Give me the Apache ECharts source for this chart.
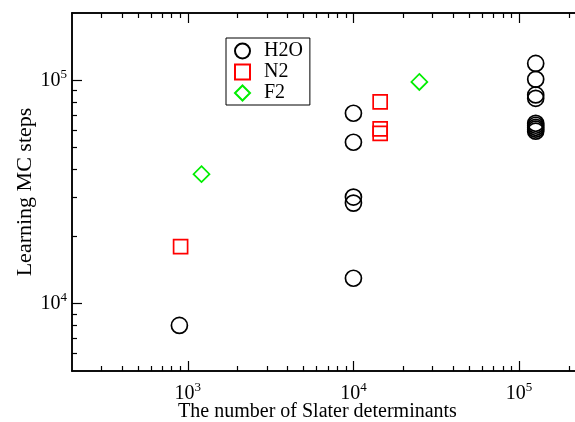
<!DOCTYPE html>
<html>
<head>
<meta charset="utf-8">
<title>Learning MC steps</title>
<script src="https://cdn.jsdelivr.net/npm/echarts@6/dist/echarts.min.js"></script>
<style>
  html, body { margin: 0; padding: 0; background: #fff; }
  #chart { width: 575px; height: 422px; }
</style>
</head>
<body>
<div id="chart"></div>
<script>
// dane
var h2oX = [890, 10000, 10000, 10000, 10000, 10000, 126000, 126000, 126000, 126000, 126000, 126000, 126000, 126000, 126000];
var h2oY = [8000, 71200, 52800, 30000, 28200, 13000, 119000, 101000, 86000, 83000, 64200, 62900, 61600, 60400, 59200];
var n2X = [905, 14500, 14500, 14500];
var n2Y = [18000, 80000, 60600, 57900];
var f2X = [1210, 25000];
var f2Y = [38000, 98300];

// podziałki
var xMajor = [1000, 10000, 100000];
var xMinor = [300, 400, 500, 600, 700, 800, 900, 2000, 3000, 4000, 5000, 6000, 7000, 8000, 9000,
  20000, 30000, 40000, 50000, 60000, 70000, 80000, 90000, 200000];
var yMajor = [10000, 100000];
var yMinor = [6000, 7000, 8000, 9000, 20000, 30000, 40000, 50000, 60000, 70000, 80000, 90000];

function pary(xs, ys) {
  return xs.map(function (x, i) { return [x, ys[i]]; });
}

function potega(v) {
  var e = Math.round(Math.log10(v));
  return '{b|10}{s|' + e + '}';
}

var czcionka = 'Liberation Serif';
var rich = {
  b: { fontFamily: czcionka, fontSize: 20, color: '#000' },
  s: { fontFamily: czcionka, fontSize: 13, color: '#000', padding: [0, 0, 12, 0] }
};

function osX(pos, ticks, len, withLabel) {
  return {
    type: 'log', logBase: 10, min: 200, max: 250000, position: pos, offset: 0,
    axisLine: { show: true, onZero: false, lineStyle: { color: '#000', width: 1.5 } },
    axisTick: { show: true, inside: true, length: len, customValues: ticks, lineStyle: { color: '#000', width: 1.2 } },
    axisLabel: withLabel ? { show: true, customValues: ticks, formatter: potega, rich: rich, margin: 10 } : { show: false },
    splitLine: { show: false }, minorTick: { show: false }
  };
}
function osY(pos, ticks, len, withLabel) {
  return {
    type: 'log', logBase: 10, min: 5000, max: 200000, position: pos, offset: 0,
    axisLine: { show: true, onZero: false, lineStyle: { color: '#000', width: 1.5 } },
    axisTick: { show: true, inside: true, length: len, customValues: ticks, lineStyle: { color: '#000', width: 1.2 } },
    axisLabel: withLabel ? { show: true, customValues: ticks, formatter: potega, rich: rich, margin: 5 } : { show: false },
    splitLine: { show: false }, minorTick: { show: false }
  };
}

var xAxes = [osX('bottom', xMajor, 10, true), osX('bottom', xMinor, 5, false), osX('top', xMajor, 10, false), osX('top', xMinor, 5, false)];
xAxes[0].name = 'The number of Slater determinants';
xAxes[0].nameLocation = 'middle';
xAxes[0].nameGap = 31;
xAxes[0].nameMoveOverlap = false;
xAxes[0].nameTextStyle = { fontFamily: czcionka, fontSize: 20, color: '#000', padding: [0, 22, 0, 0] };

var yAxes = [osY('left', yMajor, 10, true), osY('left', yMinor, 5, false), osY('right', yMajor, 10, false), osY('right', yMinor, 5, false)];
yAxes[0].name = 'Learning MC steps';
yAxes[0].nameLocation = 'middle';
yAxes[0].nameGap = 36;
yAxes[0].nameMoveOverlap = false;
yAxes[0].nameTextStyle = { fontFamily: czcionka, fontSize: 22, color: '#000' };

function seria(nazwa, dane, symbol, size, kolor) {
  return {
    name: nazwa, type: 'scatter', xAxisIndex: 0, yAxisIndex: 0,
    data: dane, symbol: symbol, symbolSize: size,
    itemStyle: { color: 'rgba(0,0,0,0)', borderColor: kolor, borderWidth: 1.7, opacity: 1 },
    emphasis: { disabled: true }
  };
}

var wykres = echarts.init(document.getElementById('chart'));
var option = {
  backgroundColor: '#fff',
  animation: false,
  grid: { left: 72, top: 13, height: 358, width: 513, containLabel: false, outerBoundsMode: 'none' },
  legend: {
    orient: 'vertical', left: 226, top: 38,
    padding: [3, 7, 2, 8], itemGap: 1, itemWidth: 15, itemHeight: 15,
    borderColor: '#000', borderWidth: 1, backgroundColor: '#fff',
    textStyle: { fontFamily: czcionka, fontSize: 20, lineHeight: 20, color: '#000', padding: [0, 0, 0, 9] },
    data: ['H2O', 'N2', 'F2']
  },
  xAxis: xAxes,
  yAxis: yAxes,
  series: [
    seria('H2O', pary(h2oX, h2oY), 'circle', 16, '#000'),
    seria('N2', pary(n2X, n2Y), 'rect', 14, '#ff0000'),
    seria('F2', pary(f2X, f2Y), 'diamond', 16, '#00ee00')
  ]
};
wykres.setOption(option);
</script>
</body>
</html>
